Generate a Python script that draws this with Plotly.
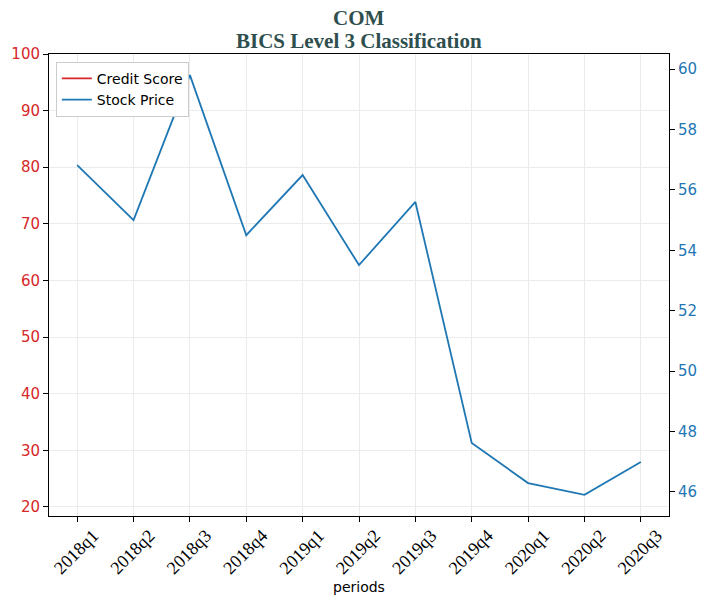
import plotly.graph_objs as go

PERIODS = ["2018q1", "2018q2", "2018q3", "2018q4", "2019q1", "2019q2",
           "2019q3", "2019q4", "2020q1", "2020q2", "2020q3"]
CREDIT_SCORE = [None] * len(PERIODS)  # no credit score values plotted
STOCK_PRICE = [56.82, 55.0, 59.8, 54.5, 56.49, 53.51, 55.6, 47.62, 46.29, 45.9, 46.99]

RED = "#d62728"
BLUE = "#1f77b4"
TITLE_LINES = ["COM", "BICS Level 3 Classification"]

fig = go.Figure()
fig.add_trace(go.Scatter(
    x=PERIODS, y=CREDIT_SCORE, mode="lines", name="Credit Score",
    line=dict(color=RED, width=1.8), yaxis="y"
))
fig.add_trace(go.Scatter(
    x=PERIODS, y=STOCK_PRICE, mode="lines", name="Stock Price",
    line=dict(color=BLUE, width=1.8), yaxis="y2"
))

# two-line title as annotations (tighter line spacing than plotly's <br>)
for txt, ypos in zip(TITLE_LINES, [1.077, 1.029]):
    fig.add_annotation(
        text="<b>" + txt + "</b>",
        xref="paper", yref="paper", x=0.5, y=ypos,
        xanchor="center", yanchor="middle", showarrow=False,
        font=dict(family="Liberation Serif", size=21, color="#2F4F4F"),
    )

# x axis title placed by hand
fig.add_annotation(
    text="periods", xref="paper", yref="paper", x=0.5, y=-0.1537,
    xanchor="center", yanchor="middle", showarrow=False,
    font=dict(family="DejaVu Sans", size=14, color="black"),
)

# page body has an 8px margin, so the figure is sized to fit the window
fig.update_layout(
    width=699, height=597,
    margin=dict(l=41, r=38, t=46, b=89, autoexpand=False),
    plot_bgcolor="white", paper_bgcolor="white",
    showlegend=True,
    legend=dict(
        x=0.011, y=0.983, xanchor="left", yanchor="top",
        bgcolor="white", bordercolor="#cccccc", borderwidth=1,
        font=dict(family="DejaVu Sans", size=14, color="black"),
        tracegroupgap=0,
    ),
    xaxis=dict(
        type="category", range=[-0.5, 10.5], automargin=False,
        showgrid=True, gridcolor="#ebebeb", gridwidth=1,
        ticks="outside", ticklen=5, tickcolor="black", tickangle=-45,
        ticklabelshift=16, ticklabelstandoff=-4,
        tickfont=dict(family="Liberation Serif", size=18, color="black"),
        showline=True, linecolor="black", linewidth=1, mirror=True,
    ),
    yaxis=dict(
        range=[18.4, 100], tickvals=[20, 30, 40, 50, 60, 70, 80, 90, 100],
        automargin=False,
        showgrid=True, gridcolor="#ebebeb", gridwidth=1,
        ticks="outside", ticklen=5, tickcolor="black",
        tickfont=dict(family="DejaVu Sans", size=15, color=RED),
        showline=True, linecolor="black", linewidth=1, zeroline=False,
    ),
    yaxis2=dict(
        overlaying="y", side="right", range=[45.2, 60.5],
        tickvals=[46, 48, 50, 52, 54, 56, 58, 60], automargin=False,
        showgrid=False, zeroline=False,
        ticks="outside", ticklen=5, tickcolor="black",
        tickfont=dict(family="DejaVu Sans", size=15, color=BLUE),
        showline=True, linecolor="black", linewidth=1,
    ),
)

fig.write_html("out.html")
